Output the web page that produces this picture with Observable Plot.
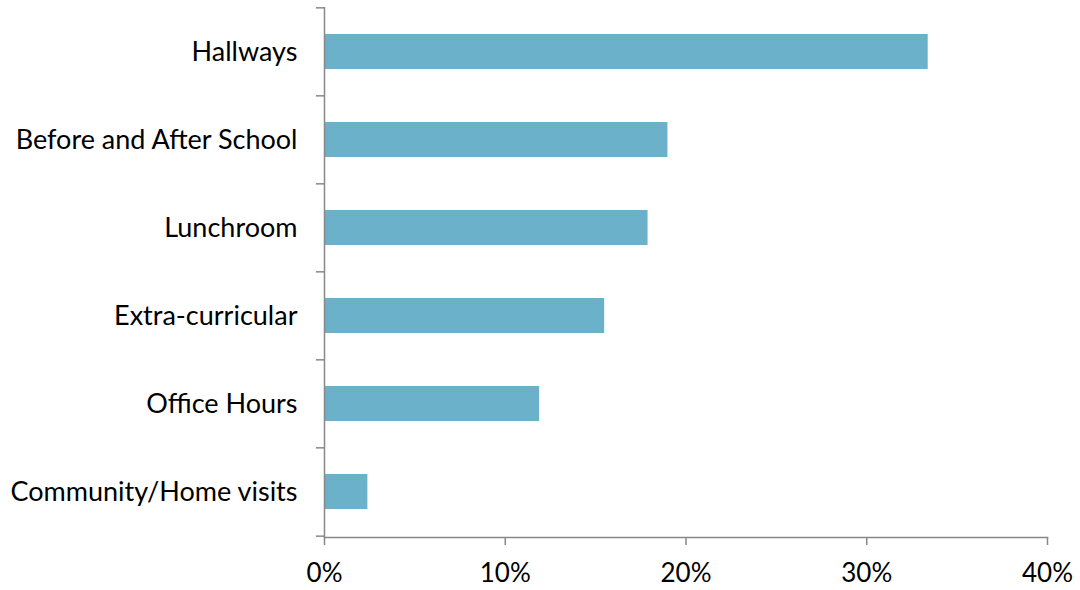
<!DOCTYPE html>
<html><head><meta charset="utf-8">
<script src="https://cdn.jsdelivr.net/npm/d3@7"></script>
<script src="https://cdn.jsdelivr.net/npm/@observablehq/plot@0.6"></script>
<style>body{margin:0;background:#fff}</style>
</head><body><div id="chart"></div>
<script>
const categories = ["Hallways","Before and After School","Lunchroom","Extra-curricular","Office Hours","Community/Home visits"];
const values = [0.334, 0.190, 0.179, 0.155, 0.119, 0.024];
const xTicks = [0, 0.1, 0.2, 0.3, 0.4];

const data = categories.map((c, i) => ({category: c, value: values[i]}));
const W = 1080, H = 590, mt = 7, mb = 53, ml = 324, mr = 33;
const step = (H - mt - mb) / categories.length;
const gray = "#888888";
const font = "Lato, 'Open Sans', sans-serif";

const chart = Plot.plot({
  width: W, height: H,
  marginTop: mt, marginBottom: mb, marginLeft: ml, marginRight: mr,
  style: {fontFamily: font, fontSize: "27px", color: "#000", background: "#fff"},
  x: {domain: [0, 0.4]},
  y: {domain: categories, paddingInner: 0.6, paddingOuter: 0.3},
  marks: [
    Plot.barX(data, {x: "value", y: "category", fill: "#6bb1c9"}),
    Plot.ruleX([0], {stroke: gray, strokeWidth: 1.5}),
    Plot.frame({anchor: "bottom", stroke: gray, strokeWidth: 1.5}),
    Plot.ruleY(categories, {y: d => d, x1: -0.0045, x2: 0, dy: -step / 2, stroke: gray, strokeWidth: 1.5}),
    Plot.ruleY([categories[categories.length - 1]], {y: d => d, x1: -0.0045, x2: 0, dy: step / 2, stroke: gray, strokeWidth: 1.5}),
    Plot.axisY({tickSize: 0, tickPadding: 27, fill: "#000", fontSize: 27, label: null}),
    Plot.axisX({ticks: xTicks, tickFormat: d3.format(".0%"), tickSize: 8, tickPadding: 18, stroke: gray, strokeWidth: 1.5, fill: "#000", fontSize: 26, label: null})
  ]
});
document.getElementById("chart").appendChild(chart);
</script></body></html>
